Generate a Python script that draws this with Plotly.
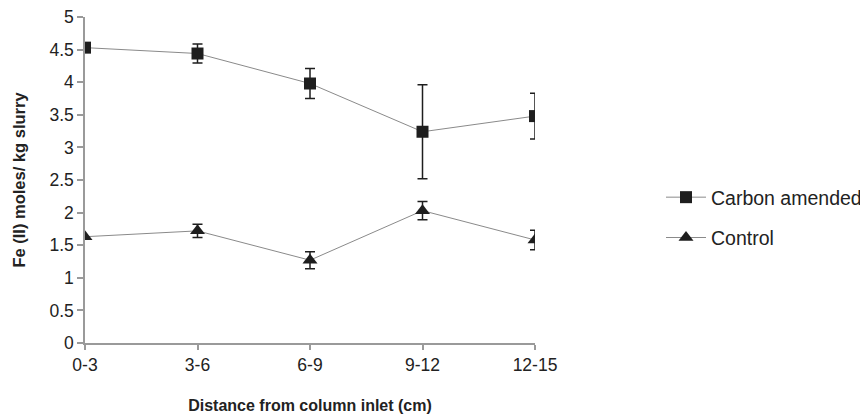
import plotly.graph_objects as go

categories = ["0-3", "3-6", "6-9", "9-12", "12-15"]
carbon = [4.53, 4.44, 3.98, 3.24, 3.48]
carbon_err = [0.0, 0.145, 0.23, 0.72, 0.35]
control = [1.63, 1.72, 1.27, 2.03, 1.58]
control_err = [0.0, 0.10, 0.13, 0.14, 0.15]

font = "Liberation Sans, Arial, sans-serif"
txt = "#222222"

fig = go.Figure()
fig.add_trace(go.Scatter(
    x=categories, y=carbon, name="Carbon amended", mode="lines+markers",
    legendgroup="a",
    line=dict(color="#8a8a8a", width=1),
    marker=dict(symbol="square", size=12, color="#1e1e1e"),
    error_y=dict(type="data", array=carbon_err, color="#1e1e1e", thickness=1.5, width=5),
))
fig.add_trace(go.Scatter(
    x=categories, y=control, name="Control", mode="lines+markers",
    legendgroup="b",
    line=dict(color="#8a8a8a", width=1),
    marker=dict(symbol="triangle-up", size=13, color="#1e1e1e"),
    error_y=dict(type="data", array=control_err, color="#1e1e1e", thickness=1.5, width=5),
))

fig.update_layout(
    width=868, height=414,
    margin=dict(l=77, r=341, t=9, b=79, autoexpand=False),
    paper_bgcolor="white", plot_bgcolor="white",
    font=dict(family=font, color=txt, size=17),
    showlegend=True,
    legend=dict(x=1.28, y=0.385, xanchor="left", yanchor="middle",
                font=dict(size=19.5, color=txt), tracegroupgap=12,
                itemwidth=40, bgcolor="rgba(0,0,0,0)"),
    xaxis=dict(
        type="category", range=[0, 4], showgrid=False, zeroline=False,
        automargin=False,
        showline=True, linecolor="#9a9a9a", linewidth=1.5,
        ticks="outside", ticklen=5, tickcolor="#9a9a9a", tickwidth=1.5,
        tickfont=dict(size=17.5, color=txt),
        title=dict(text="<b>Distance from column inlet (cm)</b>", font=dict(size=16, color=txt), standoff=26),
    ),
    yaxis=dict(
        range=[0, 5], dtick=0.5, showgrid=False, zeroline=False,
        automargin=False,
        showline=True, linecolor="#9a9a9a", linewidth=1.5,
        ticks="outside", ticklen=6, tickcolor="#9a9a9a", tickwidth=1.5,
        tickfont=dict(size=17.5, color=txt), ticklabeloverflow="allow",
        title=dict(text="<b>Fe (II) moles/ kg slurry</b>", font=dict(size=16.5, color=txt), standoff=20),
    ),
)

fig.write_html("out.html")
